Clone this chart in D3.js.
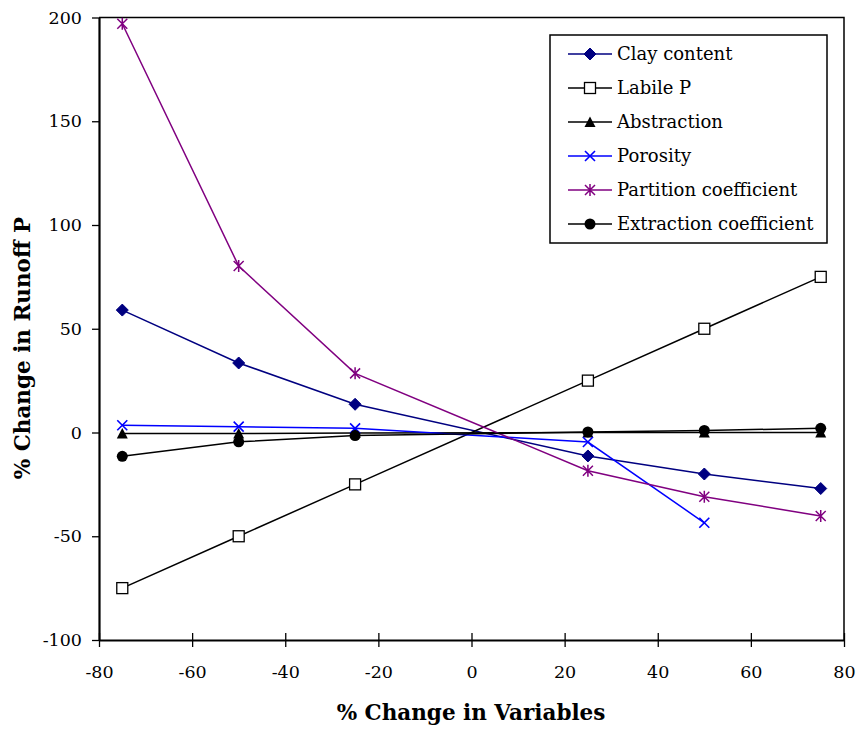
<!DOCTYPE html>
<html>
<head>
<meta charset="utf-8">
<script src="https://cdn.jsdelivr.net/npm/d3@7"></script>
<style>
  html, body { margin: 0; padding: 0; background: #fff; }
  svg { display: block; font-family: "DejaVu Serif", "Liberation Serif", serif; }
</style>
</head>
<body>
<svg id="chart" width="860" height="732"></svg>
<script>
// Sensitivity of runoff P to changes in model variables
const changes = [-75, -50, -25, 25, 50, 75];
const clayContent = [59, 33.5, 13.6, -11.3, -20, -27];
const labileP = [-75, -50, -25, 25, 50, 75];
const abstraction = [-0.5, -0.5, -0.3, 0, 0, 0];
const porosity = [3.5, 2.8, 2, -4.6, -43.5];
const partitionCoef = [197, 80.2, 28.5, -18.4, -31, -40.2];
const extractionCoef = [-11.5, -4.5, -1.5, 0.3, 1, 2];

const xTicks = [-80, -60, -40, -20, 0, 20, 40, 60, 80];
const yTicks = [-100, -50, 0, 50, 100, 150, 200];

const series = [
  { name: "Clay content", values: clayContent, color: "#000080", marker: "diamond" },
  { name: "Labile P", values: labileP, color: "#000000", marker: "square" },
  { name: "Abstraction", values: abstraction, color: "#000000", marker: "triangle" },
  { name: "Porosity", values: porosity, color: "#0000FF", marker: "cross" },
  { name: "Partition coefficient", values: partitionCoef, color: "#800080", marker: "asterisk" },
  { name: "Extraction coefficient", values: extractionCoef, color: "#000000", marker: "circle" }
];

const svg = d3.select("#chart");
const plotL = 99, plotR = 844, plotT = 17.5, plotB = 640;

const x = d3.scaleLinear().domain([-80, 80]).range([plotL, plotR]);
const y = d3.scaleLinear().domain([-100, 200]).range([plotB, plotT]);

// plain hyphen for negatives
const fmt = d => String(d);

// plot frame (top and right edges)
svg.append("path")
  .attr("d", `M${plotL},${plotT}H${plotR}V${plotB}`)
  .attr("fill", "none").attr("stroke", "#000").attr("stroke-width", 1.5);

// x axis with ticks crossing the line
const xAxis = svg.append("g").attr("transform", `translate(0,${plotB})`)
  .call(d3.axisBottom(x).tickValues(xTicks).tickSize(0).tickPadding(26).tickFormat(fmt));
xAxis.select(".domain").attr("stroke-width", 2);
xAxis.selectAll(".tick").append("line")
  .attr("y1", -7).attr("y2", 7).attr("stroke", "#000").attr("stroke-width", 1.3);
xAxis.selectAll("text").attr("font-size", 17.5).attr("fill", "#000")
  .attr("font-family", "DejaVu Serif, serif");

// y axis with outward ticks
const yAxis = svg.append("g").attr("transform", `translate(${plotL},0)`)
  .call(d3.axisLeft(y).tickValues(yTicks).tickSize(7).tickPadding(10).tickSizeOuter(0).tickFormat(fmt));
yAxis.select(".domain").attr("stroke-width", 2.2);
yAxis.selectAll(".tick line").attr("stroke-width", 1.3);
yAxis.selectAll("text").attr("font-size", 17.5).attr("fill", "#000")
  .attr("font-family", "DejaVu Serif, serif");

// axis titles
svg.append("text")
  .attr("x", 471).attr("y", 720)
  .attr("text-anchor", "middle")
  .attr("font-weight", "bold").attr("font-size", 21.5)
  .text("% Change in Variables");

svg.append("text")
  .attr("transform", "translate(30,348) rotate(-90)")
  .attr("text-anchor", "middle")
  .attr("font-weight", "bold").attr("font-size", 21.5)
  .text("% Change in Runoff P");

// marker drawing
function drawMarker(g, type, color) {
  switch (type) {
    case "diamond":
      g.append("path").attr("d", "M0,-6L6,0L0,6L-6,0Z").attr("fill", color).attr("stroke", color);
      break;
    case "square":
      g.append("rect").attr("x", -5.5).attr("y", -5.5).attr("width", 11).attr("height", 11)
        .attr("fill", "#fff").attr("stroke", "#000").attr("stroke-width", 1.3);
      break;
    case "triangle":
      g.append("path").attr("d", "M0,-5.5L5.5,5L-5.5,5Z").attr("fill", color);
      break;
    case "cross":
      g.append("path").attr("d", "M-5,-5L5,5M-5,5L5,-5").attr("stroke", color).attr("stroke-width", 1.6).attr("fill", "none");
      break;
    case "asterisk":
      g.append("path").attr("d", "M-5,-5L5,5M-5,5L5,-5M0,-6L0,6").attr("stroke", color).attr("stroke-width", 1.5).attr("fill", "none");
      break;
    case "circle":
      g.append("circle").attr("r", 5.5).attr("fill", color);
      break;
  }
}

const line = d3.line().x(d => x(d[0])).y(d => y(d[1]));

series.forEach(s => {
  const pts = s.values.map((v, i) => [changes[i], v]);
  svg.append("path").datum(pts)
    .attr("d", line).attr("fill", "none")
    .attr("stroke", s.color).attr("stroke-width", 1.5);
});
series.forEach(s => {
  const pts = s.values.map((v, i) => [changes[i], v]);
  pts.forEach(p => {
    const g = svg.append("g").attr("transform", `translate(${x(p[0])},${y(p[1])})`);
    drawMarker(g, s.marker, s.color);
  });
});

// legend
const legend = svg.append("g").attr("transform", "translate(550,35)");
legend.append("rect").attr("width", 277).attr("height", 208)
  .attr("fill", "#fff").attr("stroke", "#000").attr("stroke-width", 1.5);
series.forEach((s, i) => {
  const ly = 19 + i * 34;
  legend.append("line").attr("x1", 18).attr("x2", 62).attr("y1", ly).attr("y2", ly)
    .attr("stroke", s.color).attr("stroke-width", 1.5);
  drawMarker(legend.append("g").attr("transform", `translate(40,${ly})`), s.marker, s.color);
  legend.append("text").attr("x", 67).attr("y", ly + 6)
    .attr("font-size", 18).text(s.name);
});
</script>
</body>
</html>
